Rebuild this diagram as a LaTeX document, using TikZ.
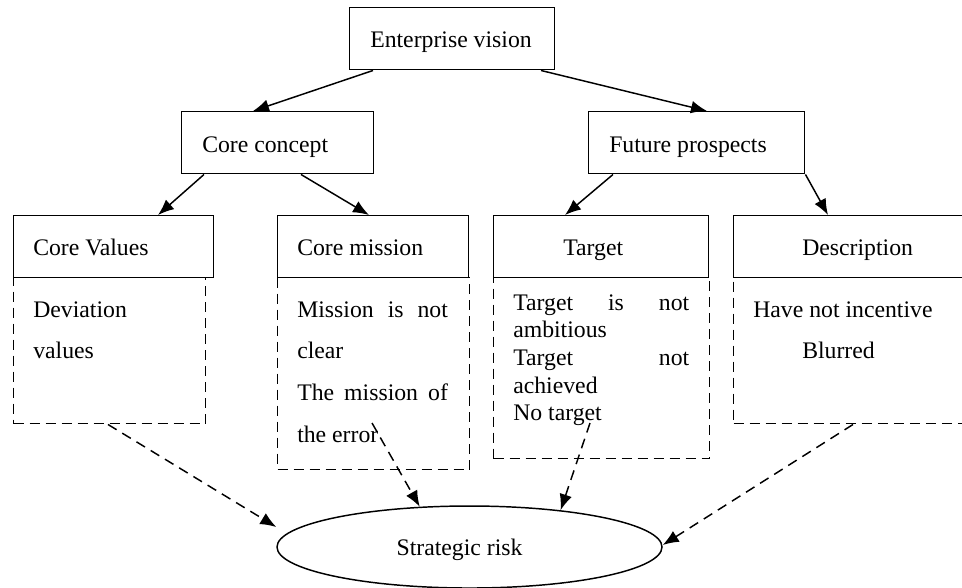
\documentclass[tikz,border=0pt]{standalone}
\usepackage{fontspec}
\setmainfont{Liberation Serif}
\usetikzlibrary{arrows.meta,calc,shapes.geometric}
\begin{document}
\begin{tikzpicture}[x=0.75pt,y=-0.75pt,
  box/.style={draw, line width=1.1pt, inner sep=0pt, anchor=north west, minimum height=46.5pt},
  dbox/.style={draw, line width=1.1pt, dash pattern=on 7.5pt off 4.5pt, inner sep=0pt, anchor=north west},
  txt/.style={anchor=base west, inner sep=0pt, font=\fontsize{17.8}{20}\selectfont},
  ctxt/.style={txt, anchor=base},
  arr/.style={-{Latex[length=12pt,width=9.5pt]}, line width=1.1pt},
  darr/.style={arr, dash pattern=on 7.5pt off 5pt}]
\useasboundingbox (0,0) rectangle (962,587);

% solid boxes
\node[box, minimum width=153.75pt] (ev) at (349,7) {};
\node[box, minimum width=144pt] (cc) at (181,111) {};
\node[box, minimum width=162pt] (fp) at (588,111) {};
\node[box, minimum width=150pt] (cv) at (13,215) {};
\node[box, minimum width=143.25pt] (cm) at (277,215) {};
\node[box, minimum width=161.25pt] (tg) at (493,215) {};
\node[box, minimum width=183.75pt] (ds) at (733,215) {};

% dashed boxes
\node[dbox, minimum width=144pt, minimum height=109.5pt] (cvd) at (13,277) {};
\node[dbox, minimum width=144pt, minimum height=144pt] (cmd) at (277,277) {};
\node[dbox, minimum width=162pt, minimum height=135.75pt] (tgd) at (493,277) {};
\node[dbox, minimum width=183.75pt, minimum height=109.5pt] (dsd) at (733,277) {};

% ellipse
\node[draw, ellipse, line width=1.1pt, inner sep=0pt, minimum width=288.75pt, minimum height=61.5pt] (risk) at (469.5,547) {};

% labels
\node[ctxt] (evt) at (451,47) {Enterprise vision};
\node[txt] (cct) at (202,152) {Core concept};
\node[txt] (fpt) at (609,152) {Future prospects};
\node[txt] (cvt) at (33,255) {Core Values};
\node[txt] (cmt) at (297,255) {Core mission};
\node[txt] (tgt) at (563,255) {Target};
\node[txt] (dst) at (802,255) {Description};
\node[ctxt] (riskt) at (459.5,555) {Strategic risk};

\node[txt] (dv1) at (33,317) {Deviation};
\node[txt] (dv2) at (33,358) {values};

\node[txt] (cm1) at (297,317) {\makebox[113pt][s]{Mission is not}};
\node[txt] (cm2) at (297,358) {clear};
\node[txt] (cm3) at (297,400) {\makebox[113pt][s]{The mission of}};
\node[txt] (cm4) at (297,442) {the error};

\node[txt] (tg1) at (513,310) {\makebox[132pt][s]{Target is not}};
\node[txt] (tg2) at (513,337) {ambitious};
\node[txt] (tg3) at (513,365) {\makebox[132pt][s]{Target not}};
\node[txt] (tg4) at (513,393) {achieved};
\node[txt] (tg5) at (513,420) {No target};

\node[txt] (ds1) at (753,317) {Have not incentive};
\node[txt] (ds2) at (802,358) {Blurred};

% solid arrows
\draw[arr] ($(ev.south west)+(24,0)$) -- ($(cc.north west)+(72,0)$);
\draw[arr] ($(ev.south west)+(192,0)$) -- ($(fp.north west)+(119,0)$);
\draw[arr] ($(cc.south west)+(23,0)$) -- ($(cv.north west)+(145,0)$);
\draw[arr] ($(cc.south west)+(120,0)$) -- ($(cm.north west)+(92,0)$);
\draw[arr] ($(fp.south west)+(25,0)$) -- ($(tg.north west)+(72,0)$);
\draw[arr] (fp.south east) -- ($(ds.north west)+(95,0)$);

% dashed arrows
\draw[darr] ($(cvd.south west)+(95,0)$) -- ($(risk.west)+(0,-20)$);
\draw[darr] ($(cmd.north west)+(95,146)$) -- (risk.141);
\draw[darr] ($(tgd.north west)+(97,146)$) -- (risk.22);
\draw[darr] ($(dsd.south west)+(120,0)$) -- ($(risk.east)+(0,-2)$);
\end{tikzpicture}
\end{document}
